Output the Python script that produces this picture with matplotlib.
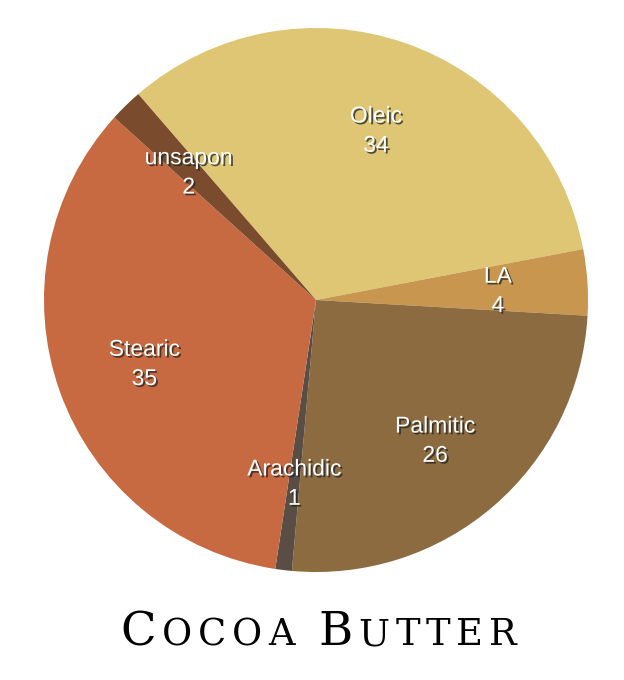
import matplotlib
matplotlib.use("Agg")
import matplotlib.pyplot as plt
import matplotlib.patheffects as pe
import numpy as np

# Data
categories = ["Oleic", "LA", "Palmitic", "Arachidic", "Stearic", "unsapon"]
values = [34, 4, 26, 1, 35, 2]
colors = ["#DFC674", "#C8964F", "#8B6B3F", "#5A4D44", "#C76941", "#7A4B2D"]
title_words = ["Cocoa", "Butter"]

fig = plt.figure(figsize=(6.24, 6.8), dpi=100)
fig.patch.set_facecolor("white")
ax = fig.add_axes([(316 - 272) / 624, (380 - 272) / 680, 544 / 624, 544 / 680])
wedges, _ = ax.pie(values, colors=colors, startangle=130.8, counterclock=False,
                   radius=1.0, labeldistance=None,
                   wedgeprops=dict(linewidth=0, antialiased=True))
ax.set_xlim(-1, 1)
ax.set_ylim(-1, 1)
ax.set_aspect("equal")
ax.axis("off")

shadow = [pe.SimplePatchShadow(offset=(1.3, -1.3), shadow_rgbFace="#222222", alpha=0.75),
          pe.Normal()]
for w, cat, v in zip(wedges, categories, values):
    mid = np.deg2rad((w.theta1 + w.theta2) / 2)
    r = 0.67
    ax.text(r * np.cos(mid), r * np.sin(mid) - 0.01, f"{cat}\n{v}", ha="center", va="center",
            fontsize=16.5, color="white", family="Liberation Sans", linespacing=1.35,
            path_effects=shadow)

# Title in small caps, letter by letter with tracking
fig.canvas.draw()
renderer = fig.canvas.get_renderer()
big, small = 33.5, 26.5
chars = []
for wi, word in enumerate(title_words):
    if wi > 0:
        chars.append((" ", small))
    for ci, ch in enumerate(word):
        chars.append((ch.upper(), big if ci == 0 else small))
pieces = []
for ch, fs in chars:
    t = fig.text(0, 35 / 680, ch, fontsize=fs, family="DejaVu Serif",
                 color="black", ha="left", va="baseline")
    pieces.append(t)
widths = []
for p, (ch, fs) in zip(pieces, chars):
    if ch == " ":
        widths.append(fs * 100 / 72 * 0.32)
    else:
        widths.append(p.get_window_extent(renderer).width)
target = 397
gap = (target - sum(widths)) / (len(pieces) - 1)
x = 318.5 - target / 2
for p, wd in zip(pieces, widths):
    p.set_x(x / 624)
    x += wd + gap

fig.savefig("out.png", dpi=100, facecolor="white")
